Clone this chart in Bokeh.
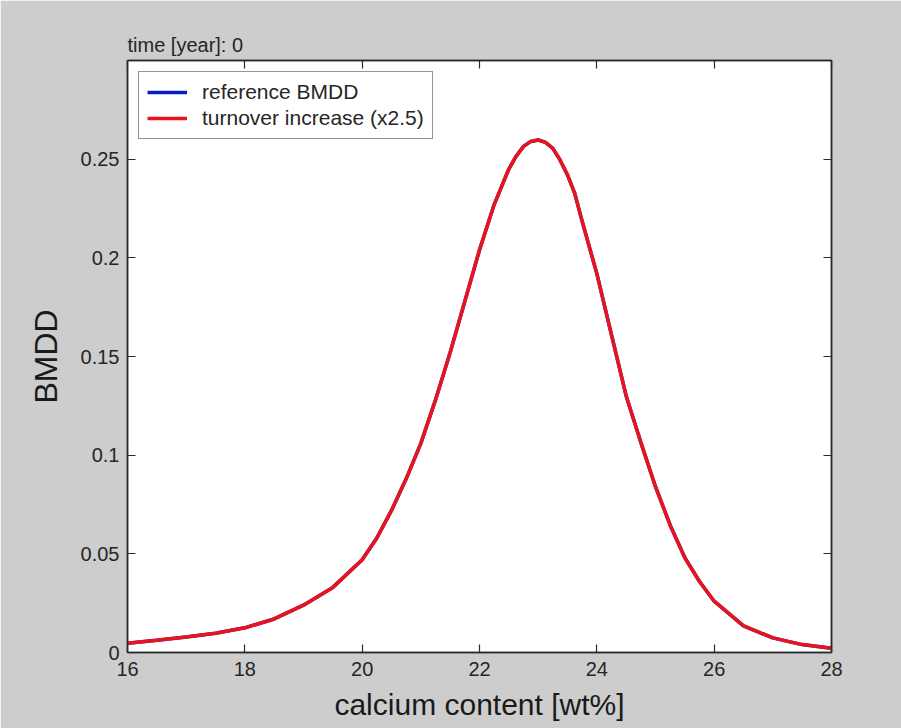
from bokeh.plotting import figure
from bokeh.models import LinearAxis, FixedTicker, Legend, LegendItem, Range1d
from bokeh.embed import file_html
from bokeh.resources import INLINE

# ---- data ----
calcium = [16.0, 16.5, 17.0, 17.5, 18.0, 18.5, 19.0, 19.5, 20.0, 20.25, 20.5, 20.75,
           21.0, 21.25, 21.5, 21.75, 22.0, 22.25, 22.5, 22.625, 22.75, 22.875, 23.0,
           23.125, 23.25, 23.375, 23.5, 23.625, 23.75, 24.0, 24.25, 24.5, 24.75,
           25.0, 25.25, 25.5, 25.75, 26.0, 26.5, 27.0, 27.5, 28.0]
bmdd_reference = [0.0047, 0.0062, 0.0078, 0.0098, 0.0125, 0.0170, 0.0240, 0.0330,
                  0.0470, 0.0580, 0.0720, 0.0880, 0.1060, 0.1280, 0.1520, 0.1780,
                  0.2040, 0.2270, 0.2450, 0.2515, 0.2565, 0.2590, 0.2597, 0.2585,
                  0.2555, 0.2495, 0.2420, 0.2325, 0.2185, 0.1920, 0.1610, 0.1300,
                  0.1065, 0.0840, 0.0645, 0.0480, 0.0360, 0.0260, 0.0135, 0.0074,
                  0.0040, 0.0022]
bmdd_turnover = list(bmdd_reference)  # identical at time 0

x_ticks = [16, 18, 20, 22, 24, 26, 28]
y_ticks = [0, 0.05, 0.1, 0.15, 0.2, 0.25]
y_tick_labels = ["0", "0.05", "0.1", "0.15", "0.2", "0.25"]

series_names = ["reference BMDD", "turnover increase (x2.5)"]
title_text = "time [year]: 0"
x_label = "calcium content [wt%]"
y_label = "BMDD"

FONT = "Liberation Sans"
TXT = "#262626"

p = figure(width=901, height=728, output_backend="svg", toolbar_location=None,
           x_range=Range1d(16, 28), y_range=Range1d(0, 0.3),
           min_border_left=127, min_border_right=70, min_border_top=60,
           min_border_bottom=76)
p.background_fill_color = "white"
p.border_fill_color = "#cdcdcd"
p.outline_line_color = "#3a3a3a"
p.outline_line_width = 1.5
p.grid.visible = False

p.title.text = title_text
p.title.align = "left"
p.title.text_font = FONT
p.title.text_font_size = "20px"
p.title.text_font_style = "normal"
p.title.text_color = TXT
p.title.offset = 0
p.title.standoff = 9

l1 = p.line(calcium, bmdd_reference, line_color="#0a1ccc", line_width=3.5)
l2 = p.line(calcium, bmdd_turnover, line_color="#e8141a", line_width=3.5)

def style_axis(ax, ticks):
    ax.ticker = FixedTicker(ticks=ticks)
    ax.major_tick_in = 8
    ax.major_tick_out = 0
    ax.minor_tick_line_color = None
    ax.axis_line_color = "#2a2a2a"
    ax.axis_line_width = 1.5
    ax.major_tick_line_color = "#2a2a2a"
    ax.major_tick_line_width = 1.2
    ax.major_label_text_font = FONT
    ax.major_label_text_font_size = "20px"
    ax.major_label_text_color = TXT
    ax.axis_label_text_font = FONT
    ax.axis_label_text_font_style = "normal"
    ax.axis_label_text_color = "#1a1a1a"

style_axis(p.xaxis[0], x_ticks)
p.xaxis[0].major_label_standoff = 9
p.xaxis[0].axis_label = x_label
p.xaxis[0].axis_label_text_font_size = "30px"
p.xaxis[0].axis_label_standoff = 9

style_axis(p.yaxis[0], y_ticks)
p.yaxis[0].major_label_overrides = dict(zip(y_ticks, y_tick_labels))
p.yaxis[0].major_label_standoff = 8
p.yaxis[0].axis_label = y_label
p.yaxis[0].axis_label_text_font_size = "32px"
p.yaxis[0].axis_label_standoff = 14

# tick marks only (no labels) on the top and right edges of the box
top_ax = LinearAxis()
style_axis(top_ax, x_ticks)
top_ax.major_label_overrides = {t: "" for t in x_ticks}
top_ax.major_label_standoff = 0
p.add_layout(top_ax, "above")

right_ax = LinearAxis()
style_axis(right_ax, y_ticks)
right_ax.major_label_overrides = {t: "" for t in y_ticks}
right_ax.major_label_standoff = 0
p.add_layout(right_ax, "right")

legend = Legend(items=[LegendItem(label=series_names[0], renderers=[l1]),
                       LegendItem(label=series_names[1], renderers=[l2])],
                location="top_left")
legend.margin = 11
legend.padding = 8
legend.spacing = 2
legend.glyph_width = 40
legend.glyph_height = 20
legend.label_height = 20
legend.label_standoff = 15
legend.label_text_font = FONT
legend.label_text_font_size = "21px"
legend.label_text_color = TXT
legend.border_line_color = "#2a2a2a"
legend.border_line_width = 1.2
legend.background_fill_alpha = 1.0
p.add_layout(legend)

open("out.html", "w").write(file_html(p, INLINE))
